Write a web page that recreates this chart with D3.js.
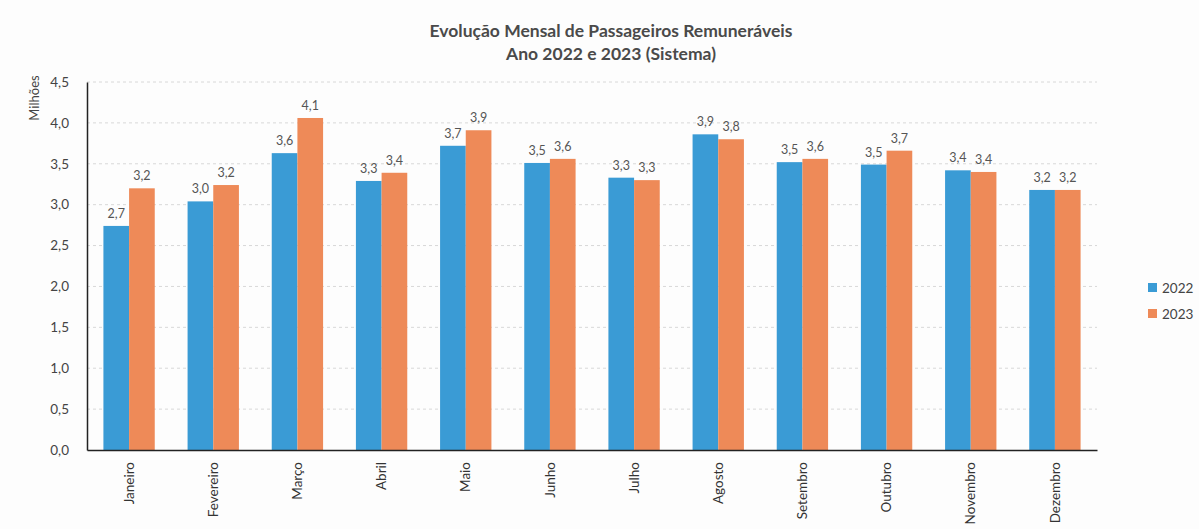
<!DOCTYPE html>
<html><head><meta charset="utf-8">
<script src="https://cdn.jsdelivr.net/npm/d3@7"></script>
<style>body{margin:0;background:#fdfdfd;}svg{display:block;}text{font-family:Lato,"Open Sans",sans-serif;}</style>
</head><body>
<script>
const months = ["Janeiro","Fevereiro","Março","Abril","Maio","Junho","Julho","Agosto","Setembro","Outubro","Novembro","Dezembro"];
const series = ["2022","2023"];
const values2022 = [2.74,3.04,3.63,3.29,3.72,3.51,3.33,3.86,3.52,3.49,3.42,3.18];
const values2023 = [3.20,3.24,4.06,3.39,3.91,3.56,3.30,3.80,3.56,3.66,3.40,3.18];
const yTicks = [0,0.5,1,1.5,2,2.5,3,3.5,4,4.5];
const titleLines = ["Evolução Mensal de Passageiros Remuneráveis","Ano 2022 e 2023 (Sistema)"];
const yLabel = "Milhões";
const colors = ["#3a9bd5","#ee8a58"];

const W=1199,H=529, mLeft=87, mRight=1097, mTop=82, mBottom=450;
const svg=d3.select("body").append("svg").attr("width",W).attr("height",H);
svg.append("rect").attr("width",W).attr("height",H).attr("fill","#fdfdfd");

const x=d3.scaleBand().domain(months).range([mLeft,mRight]).paddingInner(0.39).paddingOuter(0.195);
const xs=d3.scaleBand().domain(series).range([0,x.bandwidth()]);
const y=d3.scaleLinear().domain([0,4.5]).range([mBottom,mTop]);
const fmt=v=>d3.format(".1f")(v).replace(".",",");

// grid
svg.append("g").selectAll("line").data(yTicks.slice(1)).join("line")
 .attr("x1",mLeft).attr("x2",mRight).attr("y1",d=>y(d)).attr("y2",d=>y(d))
 .attr("stroke","#d8d8d8").attr("stroke-dasharray","3,3").attr("stroke-width",1);

// y axis
const ya=svg.append("g").attr("transform",`translate(${mLeft},0)`).call(d3.axisLeft(y).tickValues(yTicks).tickFormat(fmt).tickSize(0).tickPadding(18));
ya.select(".domain").attr("stroke","#222").attr("stroke-width",1.5);
ya.selectAll("text").attr("font-size",13.5).attr("fill","#444");

// bars
const data=months.map((m,i)=>({m,vals:[values2022[i],values2023[i]]}));
const g=svg.append("g").selectAll("g").data(data).join("g").attr("transform",d=>`translate(${x(d.m)},0)`);
g.selectAll("rect").data(d=>d.vals.map((v,j)=>({s:series[j],v,j}))).join("rect")
 .attr("x",d=>xs(d.s)).attr("width",xs.bandwidth()).attr("y",d=>y(d.v)).attr("height",d=>mBottom-y(d.v))
 .attr("fill",d=>colors[d.j]);
g.selectAll("text").data(d=>d.vals.map((v,j)=>({s:series[j],v,j}))).join("text")
 .attr("x",d=>xs(d.s)+xs.bandwidth()/2).attr("y",d=>y(d.v)-8).attr("text-anchor","middle")
 .attr("font-size",12.5).attr("fill","#555").text(d=>fmt(d.v));

// x axis
const xa=svg.append("g").attr("transform",`translate(0,${mBottom})`).call(d3.axisBottom(x).tickSize(0).tickPadding(0));
xa.select(".domain").attr("stroke","#222").attr("stroke-width",1.5);
xa.selectAll("text").attr("font-size",13.5).attr("fill","#333")
 .attr("transform","rotate(-90)").attr("text-anchor","end").attr("dx","-12").attr("dy","0.35em").attr("x",0).attr("y",0);

// y label
svg.append("text").attr("transform","translate(39,98) rotate(-90)").attr("text-anchor","middle")
 .attr("font-size",13).attr("fill","#444").text(yLabel);

// title
svg.append("g").selectAll("text").data(titleLines).join("text")
 .attr("x",611).attr("y",(d,i)=>37+i*23).attr("text-anchor","middle")
 .attr("font-size",17.5).attr("font-weight","bold").attr("fill","#4a4a4a").text(d=>d);

// legend
const lg=svg.append("g").selectAll("g").data(series).join("g").attr("transform",(d,i)=>`translate(1148,${288+i*26})`);
lg.append("rect").attr("x",0).attr("y",-5).attr("width",9).attr("height",9).attr("fill",(d,i)=>colors[i]);
lg.append("text").attr("x",14).attr("y",0).attr("dy","0.35em").attr("font-size",13.5).attr("fill","#444").text(d=>d);
</script>
</body></html>
